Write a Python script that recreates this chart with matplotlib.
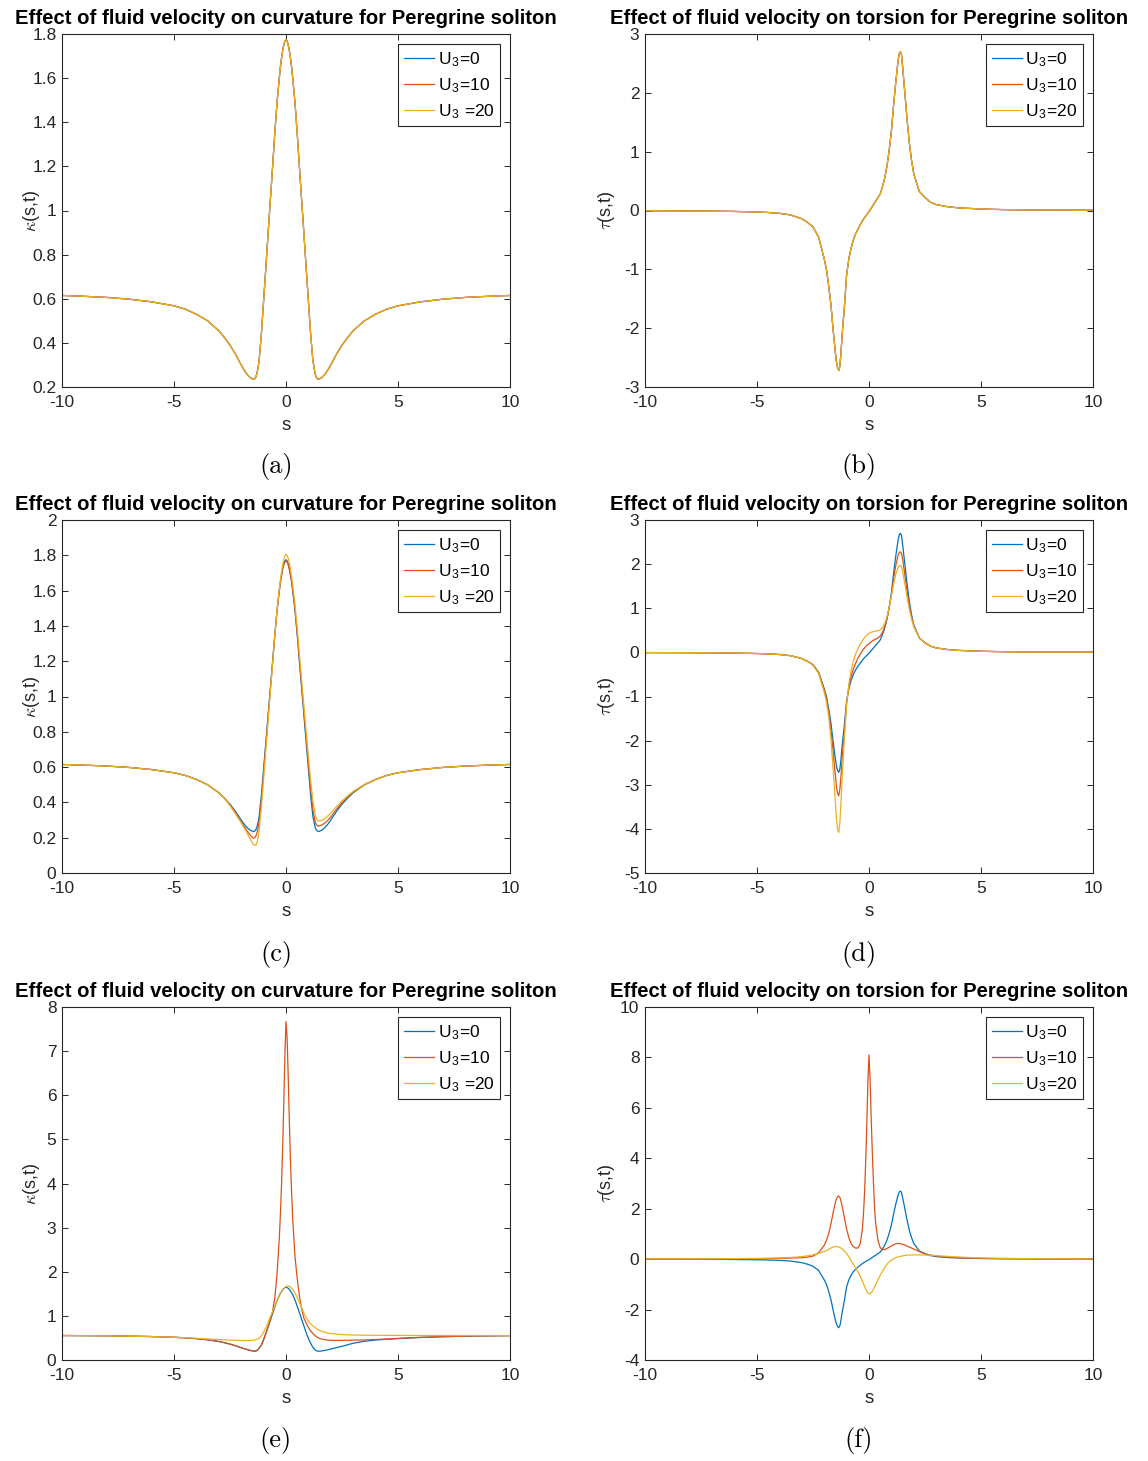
import matplotlib
matplotlib.use("Agg")
import matplotlib.pyplot as plt
from matplotlib.ticker import FuncFormatter

plt.rcParams['font.family'] = ['Liberation Sans', 'DejaVu Sans']
plt.rcParams['axes.unicode_minus'] = False
plt.rcParams['mathtext.fontset'] = 'custom'
plt.rcParams['mathtext.rm'] = 'Liberation Sans'
plt.rcParams['mathtext.it'] = 'cmmi10'
plt.rcParams['mathtext.bf'] = 'Liberation Sans:bold'

# arc length grid shared by every curve (denser near the soliton core)
s = [-10, -9, -8, -7, -6, -5, -4.5, -4, -3.5, -3, -2.75, -2.5, -2.25,
     -2.0, -1.9, -1.8, -1.7, -1.6, -1.5, -1.45, -1.4, -1.35, -1.3, -1.25, -1.2,
     -1.1, -1.0, -0.9, -0.8, -0.7, -0.6, -0.5, -0.4, -0.3, -0.25, -0.2, -0.15, -0.1, -0.05,
     0.0, 0.05, 0.1, 0.15, 0.2, 0.25, 0.3, 0.4, 0.5, 0.6, 0.7, 0.8, 0.9, 1.0,
     1.1, 1.2, 1.3, 1.35, 1.4, 1.45, 1.5, 1.6, 1.7, 1.8, 1.9, 2.0,
     2.25, 2.5, 2.75, 3.0, 3.5, 4.0, 4.5, 5, 6, 7, 8, 9, 10]

# curvature, U3 = 0 (same for all U3 in panel a)
kappa_0 = [0.615, 0.611, 0.606, 0.598, 0.586, 0.568, 0.553, 0.530, 0.500, 0.455, 0.424, 0.390, 0.348,
           0.300, 0.282, 0.266, 0.253, 0.243, 0.237, 0.235, 0.237, 0.245, 0.260, 0.285, 0.320,
           0.440, 0.590, 0.740, 0.895, 1.045, 1.195, 1.350, 1.490, 1.600, 1.650, 1.690, 1.725, 1.750, 1.768,
           1.775, 1.768, 1.750, 1.725, 1.690, 1.650, 1.600, 1.490, 1.350, 1.195, 1.045, 0.895, 0.740, 0.590,
           0.440, 0.320, 0.260, 0.245, 0.237, 0.235, 0.237, 0.243, 0.253, 0.266, 0.282, 0.300,
           0.348, 0.390, 0.424, 0.455, 0.500, 0.530, 0.553, 0.568, 0.586, 0.598, 0.606, 0.611, 0.615]

# torsion, U3 = 0 (same for all U3 in panel b)
tau_0 = [-0.005, -0.006, -0.008, -0.011, -0.016, -0.026, -0.034, -0.048, -0.075, -0.14, -0.20, -0.28, -0.45,
         -0.82, -1.0, -1.28, -1.6, -2.03, -2.42, -2.58, -2.68, -2.72, -2.64, -2.42, -2.12,
         -1.65, -1.1, -0.82, -0.64, -0.5, -0.4, -0.32, -0.25, -0.18, -0.15, -0.12, -0.095, -0.07, -0.045,
         -0.02, 0.01, 0.04, 0.07, 0.1, 0.13, 0.16, 0.22, 0.28, 0.4, 0.55, 0.75, 1.02, 1.35,
         1.8, 2.2, 2.55, 2.66, 2.7, 2.65, 2.45, 2.0, 1.55, 1.15, 0.85, 0.62,
         0.32, 0.22, 0.14, 0.1, 0.065, 0.045, 0.035, 0.025, 0.015, 0.01, 0.008, 0.006, 0.005]

# panel c
kappa_c_10 = [0.615, 0.611, 0.606, 0.598, 0.586, 0.568, 0.553, 0.530, 0.500, 0.455, 0.424, 0.385, 0.340,
              0.290, 0.270, 0.250, 0.232, 0.215, 0.202, 0.197, 0.199, 0.208, 0.225, 0.252, 0.290,
              0.415, 0.570, 0.725, 0.880, 1.035, 1.190, 1.345, 1.485, 1.595, 1.645, 1.685, 1.720, 1.745, 1.762,
              1.768, 1.762, 1.745, 1.720, 1.688, 1.650, 1.600, 1.495, 1.360, 1.210, 1.060, 0.915, 0.765, 0.620,
              0.475, 0.360, 0.290, 0.275, 0.268, 0.266, 0.267, 0.272, 0.280, 0.290, 0.303, 0.318,
              0.360, 0.398, 0.430, 0.458, 0.500, 0.530, 0.553, 0.568, 0.586, 0.598, 0.606, 0.611, 0.615]
kappa_c_20 = [0.615, 0.611, 0.606, 0.598, 0.586, 0.568, 0.553, 0.530, 0.500, 0.455, 0.424, 0.382, 0.334,
              0.284, 0.262, 0.240, 0.217, 0.194, 0.172, 0.163, 0.157, 0.158, 0.170, 0.198, 0.240,
              0.370, 0.530, 0.695, 0.860, 1.025, 1.185, 1.345, 1.490, 1.610, 1.660, 1.705, 1.745, 1.775, 1.797,
              1.806, 1.800, 1.783, 1.757, 1.722, 1.680, 1.632, 1.525, 1.390, 1.240, 1.090, 0.945, 0.800, 0.660,
              0.525, 0.410, 0.330, 0.310, 0.300, 0.296, 0.295, 0.298, 0.305, 0.315, 0.327, 0.340,
              0.375, 0.408, 0.437, 0.462, 0.502, 0.530, 0.553, 0.568, 0.586, 0.598, 0.606, 0.611, 0.615]

# panel d
tau_d_10 = [-0.005, -0.006, -0.008, -0.011, -0.016, -0.026, -0.034, -0.048, -0.075, -0.14, -0.20, -0.28, -0.46,
            -0.85, -1.05, -1.35, -1.75, -2.25, -2.8, -3.05, -3.2, -3.25, -3.1, -2.8, -2.4,
            -1.8, -1.15, -0.78, -0.55, -0.38, -0.25, -0.14, -0.05, 0.03, 0.07, 0.1, 0.13, 0.16, 0.18,
            0.2, 0.22, 0.24, 0.26, 0.275, 0.29, 0.3, 0.33, 0.37, 0.45, 0.58, 0.76, 1.0, 1.3,
            1.68, 1.98, 2.2, 2.26, 2.28, 2.25, 2.12, 1.75, 1.38, 1.05, 0.8, 0.6,
            0.33, 0.21, 0.14, 0.1, 0.065, 0.045, 0.035, 0.025, 0.015, 0.01, 0.008, 0.006, 0.005]
tau_d_20 = [-0.005, -0.006, -0.008, -0.011, -0.016, -0.026, -0.034, -0.048, -0.075, -0.14, -0.20, -0.29, -0.48,
            -0.9, -1.12, -1.45, -1.95, -2.65, -3.4, -3.8, -4.02, -4.08, -3.85, -3.4, -2.85,
            -1.95, -1.2, -0.72, -0.42, -0.2, -0.04, 0.08, 0.18, 0.26, 0.3, 0.33, 0.36, 0.39, 0.41,
            0.43, 0.445, 0.455, 0.465, 0.47, 0.475, 0.48, 0.49, 0.51, 0.56, 0.65, 0.8, 1.02, 1.28,
            1.55, 1.78, 1.92, 1.96, 1.97, 1.94, 1.85, 1.55, 1.25, 0.98, 0.76, 0.58,
            0.33, 0.21, 0.14, 0.1, 0.065, 0.045, 0.035, 0.025, 0.015, 0.01, 0.008, 0.006, 0.005]

# panel e
kappa_e_0 = [0.555, 0.552, 0.548, 0.541, 0.531, 0.515, 0.502, 0.483, 0.458, 0.420, 0.392, 0.360, 0.322,
             0.278, 0.262, 0.247, 0.232, 0.218, 0.206, 0.202, 0.200, 0.204, 0.215, 0.235, 0.265,
             0.340, 0.460, 0.600, 0.750, 0.900, 1.050, 1.200, 1.340, 1.460, 1.510, 1.550, 1.590, 1.620, 1.640,
             1.648, 1.640, 1.625, 1.600, 1.565, 1.525, 1.480, 1.360, 1.220, 1.070, 0.920, 0.770, 0.620, 0.490,
             0.380, 0.290, 0.230, 0.213, 0.203, 0.200, 0.201, 0.206, 0.214, 0.224, 0.236, 0.249,
             0.280, 0.310, 0.345, 0.380, 0.425, 0.452, 0.470, 0.485, 0.510, 0.527, 0.538, 0.546, 0.552]
kappa_e_10 = [0.555, 0.552, 0.548, 0.541, 0.531, 0.515, 0.502, 0.483, 0.458, 0.420, 0.392, 0.360, 0.322,
              0.278, 0.262, 0.247, 0.232, 0.218, 0.206, 0.202, 0.200, 0.204, 0.215, 0.235, 0.265,
              0.340, 0.460, 0.600, 0.750, 0.900, 1.100, 1.400, 1.950, 2.750, 3.300, 3.950, 4.800, 5.800, 6.900,
              7.670, 7.300, 6.400, 5.400, 4.500, 3.800, 3.200, 2.350, 1.850, 1.450, 1.150, 0.950, 0.840, 0.740,
              0.660, 0.600, 0.550, 0.530, 0.515, 0.500, 0.490, 0.475, 0.463, 0.455, 0.450, 0.447,
              0.445, 0.445, 0.447, 0.450, 0.455, 0.465, 0.475, 0.490, 0.515, 0.530, 0.540, 0.547, 0.552]
kappa_e_20 = [0.555, 0.552, 0.548, 0.541, 0.531, 0.515, 0.505, 0.492, 0.478, 0.463, 0.456, 0.450, 0.445,
              0.442, 0.441, 0.440, 0.440, 0.442, 0.447, 0.451, 0.456, 0.463, 0.472, 0.483, 0.497,
              0.550, 0.630, 0.735, 0.850, 0.980, 1.100, 1.220, 1.340, 1.450, 1.500, 1.545, 1.585, 1.620, 1.648,
              1.670, 1.680, 1.680, 1.672, 1.655, 1.630, 1.600, 1.520, 1.420, 1.300, 1.180, 1.060, 0.960, 0.880,
              0.820, 0.770, 0.730, 0.712, 0.696, 0.682, 0.670, 0.650, 0.634, 0.620, 0.609, 0.600,
              0.586, 0.577, 0.570, 0.566, 0.562, 0.560, 0.558, 0.557, 0.556, 0.555, 0.554, 0.553, 0.553]

# panel f
tau_f_10 = [0.004, 0.005, 0.006, 0.008, 0.012, 0.018, 0.022, 0.03, 0.04, 0.06, 0.08, 0.12, 0.25,
            0.55, 0.75, 1.0, 1.4, 1.85, 2.25, 2.4, 2.48, 2.5, 2.45, 2.3, 2.1,
            1.65, 1.2, 0.85, 0.62, 0.5, 0.44, 0.44, 0.58, 1.15, 1.75, 2.6, 3.8, 5.3, 7.0,
            8.1, 7.1, 5.5, 4.2, 3.0, 2.0, 1.4, 0.75, 0.45, 0.37, 0.38, 0.42, 0.47, 0.52,
            0.57, 0.61, 0.62, 0.62, 0.615, 0.6, 0.59, 0.56, 0.52, 0.48, 0.44, 0.4,
            0.3, 0.21, 0.16, 0.12, 0.085, 0.055, 0.04, 0.03, 0.018, 0.012, 0.009, 0.007, 0.005]
tau_f_20 = [0.005, 0.007, 0.01, 0.014, 0.02, 0.03, 0.038, 0.05, 0.068, 0.1, 0.13, 0.17, 0.23,
            0.3, 0.34, 0.39, 0.44, 0.48, 0.5, 0.5, 0.49, 0.48, 0.46, 0.44, 0.41,
            0.33, 0.22, 0.09, -0.05, -0.2, -0.35, -0.5, -0.67, -0.87, -0.97, -1.07, -1.17, -1.26, -1.33,
            -1.38, -1.37, -1.33, -1.27, -1.2, -1.1, -1.0, -0.82, -0.64, -0.48, -0.33, -0.21, -0.11, -0.04,
            0.02, 0.06, 0.09, 0.1, 0.11, 0.12, 0.13, 0.145, 0.155, 0.162, 0.167, 0.17,
            0.17, 0.165, 0.155, 0.14, 0.11, 0.085, 0.065, 0.05, 0.03, 0.02, 0.014, 0.01, 0.008]

x_ticks = [-10, -5, 0, 5, 10]
yticks_a = [0.2, 0.4, 0.6, 0.8, 1, 1.2, 1.4, 1.6, 1.8]
yticks_b = [-3, -2, -1, 0, 1, 2, 3]
yticks_c = [0, 0.2, 0.4, 0.6, 0.8, 1, 1.2, 1.4, 1.6, 1.8, 2]
yticks_d = [-5, -4, -3, -2, -1, 0, 1, 2, 3]
yticks_e = [0, 1, 2, 3, 4, 5, 6, 7, 8]
yticks_f = [-4, -2, 0, 2, 4, 6, 8, 10]

colors = ['#0072BD', '#D95319', '#EDB120']
dark = '#262626'
labels_k = ['U$_3$=0', 'U$_3$=10', 'U$_3$ =20']
labels_t = ['U$_3$=0', 'U$_3$=10', 'U$_3$=20']
title_k = 'Effect of fluid velocity on curvature for Peregrine soliton'
title_t = 'Effect of fluid velocity on torsion for Peregrine soliton'

panels = [
    # col, row, curves, yticks, ylabel, labels, title, caption
    (0, 0, [kappa_0, kappa_0, kappa_0], yticks_a, r'$\kappa$(s,t)', labels_k, title_k, '(a)'),
    (1, 0, [tau_0, tau_0, tau_0], yticks_b, r'$\tau$(s,t)', labels_t, title_t, '(b)'),
    (0, 1, [kappa_0, kappa_c_10, kappa_c_20], yticks_c, r'$\kappa$(s,t)', labels_k, title_k, '(c)'),
    (1, 1, [tau_0, tau_d_10, tau_d_20], yticks_d, r'$\tau$(s,t)', labels_t, title_t, '(d)'),
    (0, 2, [kappa_e_0, kappa_e_10, kappa_e_20], yticks_e, r'$\kappa$(s,t)', labels_k, title_k, '(e)'),
    (1, 2, [tau_0, tau_f_10, tau_f_20], yticks_f, r'$\tau$(s,t)', labels_t, title_t, '(f)'),
]

W, H = 1148, 1461
col_left = [62, 645]
row_top = [34, 520, 1007]
ax_w, ax_h = 448, 353
cap_x = [276, 859]
cap_y = [467, 955, 1441]

fig = plt.figure(figsize=(W / 100, H / 100), dpi=100)

for col, row, curves, yt, ylab, labs, title, cap in panels:
    left = col_left[col] / W
    bottom = 1 - (row_top[row] + ax_h) / H
    ax = fig.add_axes([left, bottom, ax_w / W, ax_h / H])

    for ys, c, lab in zip(curves, colors, labs):
        ax.plot(s, ys, color=c, lw=0.9, label=lab)

    ax.set_xlim(-10, 10)
    ax.set_ylim(yt[0], yt[-1])
    ax.set_xticks(x_ticks)
    ax.set_yticks(yt)
    ax.xaxis.set_major_formatter(FuncFormatter(lambda v, p: f'{v:g}'))
    ax.yaxis.set_major_formatter(FuncFormatter(lambda v, p: f'{v:g}'))
    ax.tick_params(direction='in', top=True, right=True, length=4.5, width=0.7,
                   colors=dark, labelsize=12.5)
    ax.tick_params(axis='x', pad=6)
    ax.tick_params(axis='y', pad=4)
    for sp in ax.spines.values():
        sp.set_color(dark)
        sp.set_linewidth(0.8)

    ax.set_xlabel('s', fontsize=13.5, color=dark)
    ax.xaxis.set_label_coords(0.5, -0.085)
    ax.set_ylabel(ylab, fontsize=13, color=dark)
    ax.yaxis.set_label_coords(-0.045 if col == 0 else -0.062, 0.5)
    ax.set_title(title, fontsize=14.6, fontweight='bold', color='black', pad=7)

    leg = ax.legend(loc='upper right', fontsize=12.5, frameon=True, fancybox=False,
                    framealpha=1, edgecolor=dark, borderaxespad=0.6, borderpad=0.3,
                    labelspacing=0.42, handlelength=1.75, handletextpad=0.2)
    leg.get_frame().set_linewidth(0.8)

    fig.text(cap_x[col] / W, 1 - cap_y[row] / H, cap, ha='center', va='center',
             fontfamily='cmr10', fontsize=19)

fig.savefig('out.png', dpi=100)
